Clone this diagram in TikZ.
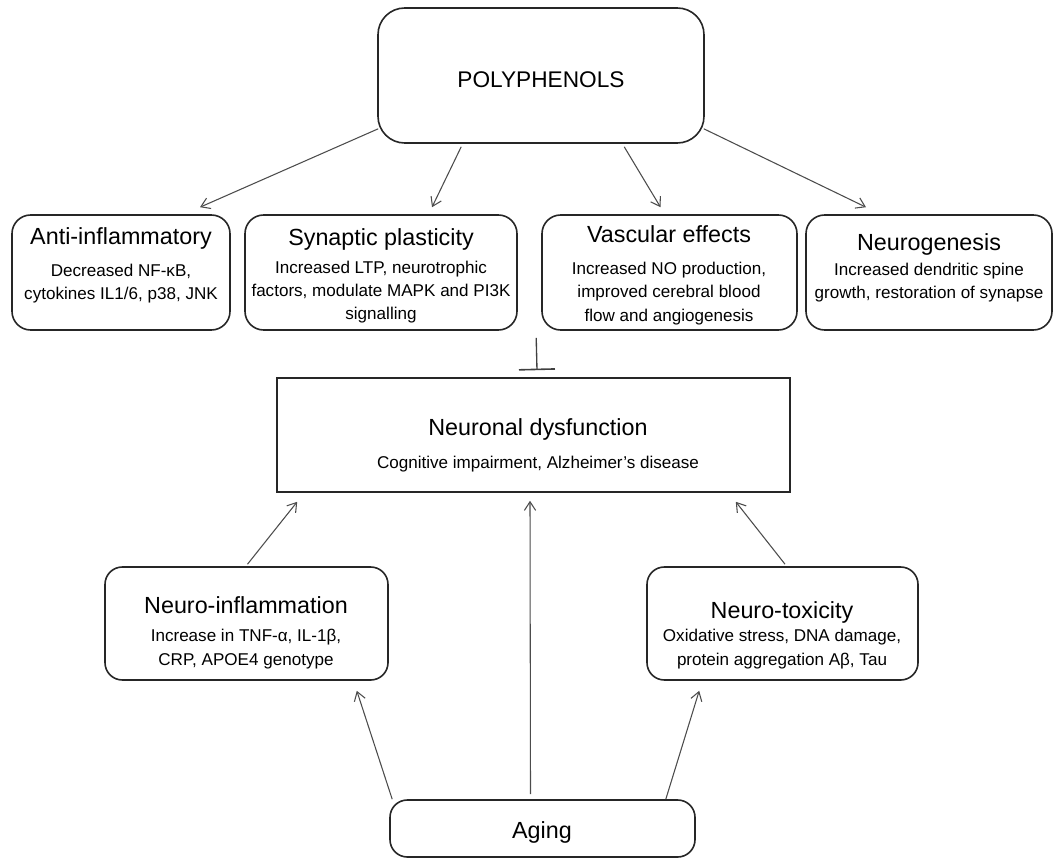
\documentclass[tikz,border=0pt]{standalone}
\usepackage{fontspec}
\setmainfont{Liberation Sans}
\usetikzlibrary{arrows.meta,fit,calc}
\begin{document}
\begin{tikzpicture}[x=0.75pt,y=-0.75pt,
  box/.style={draw=black!85,line width=1.2pt,inner sep=0pt,fill=white},
  rbox/.style={box,rounded corners=14pt},
  title/.style={font=\fontsize{17.5}{21}\selectfont,anchor=base,inner sep=0pt},
  sub/.style={font=\fontsize{12.8}{17.3}\selectfont,anchor=base,align=center,inner sep=0pt},
  arr/.style={draw=black!70,line width=0.8pt,-{Straight Barb[length=6.5pt,width=8.5pt]}},
  inh/.style={draw=black!75,line width=1pt,-{Bar[width=27pt,line width=1.2pt]}}]
\useasboundingbox (0,0) rectangle (1060,859);

% top
\node[box,rounded corners=20pt,fit={(378,8)(704,143)}] (poly) {};
\node[title,font=\fontsize{17}{20}\selectfont] (polyt) at (541,88) {POLYPHENOLS};

% row 2
\node[rbox,fit={(12,215)(230,330)}] (anti) {};
\node[title] (antit) at (121,245) {Anti-inflammatory};
\node[sub] (antis) at (121,300) {Decreased NF-κB,\\cytokines IL1/6, p38, JNK};

\node[rbox,fit={(245,215)(517,330)}] (syn) {};
\node[title] (synt) at (381,246) {Synaptic plasticity};
\node[sub] (syns) at (381,320) {Increased LTP, neurotrophic\\factors, modulate MAPK and PI3K\\signalling};

\node[rbox,fit={(542,215)(797,330)}] (vas) {};
\node[title] (vast) at (669,243) {Vascular effects};
\node[sub] (vass) at (669,321) {Increased NO production,\\improved cerebral blood\\flow and angiogenesis};

\node[rbox,fit={(806,215)(1052,330)}] (neu) {};
\node[title] (neut) at (929,251) {Neurogenesis};
\node[sub] (neus) at (929,299) {Increased dendritic spine\\growth, restoration of synapse};

% neuronal dysfunction
\node[box,fit={(277,378)(790,492)}] (nd) {};
\node[title] (ndt) at (538,435) {Neuronal dysfunction};
\node[sub] (nds) at (538,468) {Cognitive impairment, Alzheimer’s disease};

% lower
\node[rbox,rounded corners=13pt,fit={(105,567)(388,680)}] (ninf) {};
\node[title] (ninft) at (246,613) {Neuro-inflammation};
\node[sub] (ninfs) at (246,665) {Increase in TNF-α, IL-1β,\\CRP, APOE4 genotype};

\node[rbox,rounded corners=13pt,fit={(647,567)(918,680)}] (ntox) {};
\node[title] (ntoxt) at (782,618) {Neuro-toxicity};
\node[sub] (ntoxs) at (782,665) {Oxidative stress, DNA damage,\\protein aggregation Aβ, Tau};

\node[rbox,rounded corners=13pt,fit={(390,800)(695,857)}] (aging) {};
\node[title] (agingt) at (542,838) {Aging};

% connectors
\draw[arr] ($(poly.south west)+(1,-15)$) -- ($(anti.north)+(79,-7)$);
\draw[arr] ($(poly.south west)+(84,3)$) -- ($(syn.north)+(51,-7)$);
\draw[arr] ($(poly.south west)+(247,3)$) -- ($(vas.north)+(-9,-7)$);
\draw[arr] ($(poly.south east)+(-1,-15)$) -- ($(neu.north)+(-63,-7)$);

\draw[inh] ($(vas.south west)+(-5,7)$) -- ($(nd.north)+(3.5,-7)$);

\draw[arr] ($(ninf.north)+(1,-2)$) -- ($(nd.south west)+(21,9)$);
\draw[arr] ($(aging.north)+(-12,-5)$) -- ($(nd.south)+(-3.5,8)$);
\draw[arr] ($(ntox.north)+(2.5,-2)$) -- ($(nd.south east)+(-55,9)$);
\draw[arr] ($(aging.north west)+(3,0)$) -- ($(ninf.south east)+(-32,10)$);
\draw[arr] ($(aging.north east)+(-30,0)$) -- ($(ntox.south west)+(53,10)$);
\end{tikzpicture}
\end{document}
